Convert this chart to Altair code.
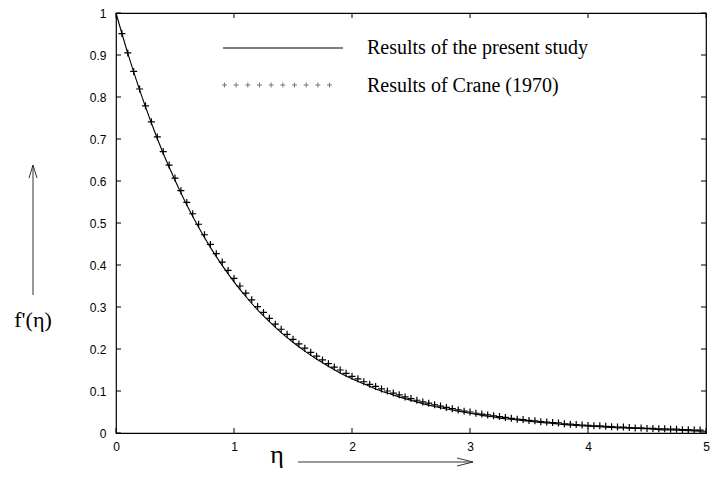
import altair as alt
import pandas as pd

# ---------------- data ----------------
eta_line = [0.0, 0.1, 0.2, 0.3, 0.4, 0.5, 0.6, 0.7, 0.8, 0.9,
            1.0, 1.1, 1.2, 1.3, 1.4, 1.5, 1.6, 1.7, 1.8, 1.9,
            2.0, 2.1, 2.2, 2.3, 2.4, 2.5, 2.6, 2.7, 2.8, 2.9,
            3.0, 3.1, 3.2, 3.3, 3.4, 3.5, 3.6, 3.7, 3.8, 3.9,
            4.0, 4.1, 4.2, 4.3, 4.4, 4.5, 4.6, 4.7, 4.8, 4.9, 5.0]
f_present = [1.000, 0.904, 0.817, 0.738, 0.666, 0.602, 0.543, 0.490, 0.442, 0.399,
             0.360, 0.325, 0.293, 0.265, 0.239, 0.216, 0.195, 0.176, 0.159, 0.143,
             0.129, 0.117, 0.105, 0.095, 0.086, 0.078, 0.070, 0.063, 0.057, 0.052,
             0.047, 0.042, 0.038, 0.034, 0.031, 0.028, 0.025, 0.023, 0.020, 0.018,
             0.016, 0.015, 0.013, 0.012, 0.011, 0.010, 0.008, 0.007, 0.006, 0.005, 0.004]

eta_crane = [i / 20 for i in range(1, 100)]
f_crane = [0.951, 0.905, 0.861, 0.819, 0.779, 0.741, 0.705, 0.670, 0.638, 0.607,
           0.577, 0.549, 0.522, 0.497, 0.472, 0.449, 0.427, 0.407, 0.387, 0.368,
           0.350, 0.333, 0.317, 0.301, 0.287, 0.273, 0.259, 0.247, 0.235, 0.223,
           0.212, 0.202, 0.192, 0.183, 0.174, 0.165, 0.157, 0.150, 0.142, 0.135,
           0.129, 0.122, 0.116, 0.111, 0.105, 0.100, 0.095, 0.091, 0.086, 0.082,
           0.078, 0.074, 0.071, 0.067, 0.064, 0.061, 0.058, 0.055, 0.052, 0.050,
           0.047, 0.045, 0.043, 0.041, 0.039, 0.037, 0.035, 0.033, 0.032, 0.030,
           0.029, 0.027, 0.026, 0.025, 0.024, 0.022, 0.021, 0.020, 0.019, 0.018,
           0.017, 0.017, 0.016, 0.015, 0.014, 0.014, 0.013, 0.012, 0.012, 0.011,
           0.011, 0.010, 0.010, 0.009, 0.009, 0.008, 0.008, 0.007, 0.007]

x_ticks = [0, 1, 2, 3, 4, 5]
y_ticks = [0, 0.1, 0.2, 0.3, 0.4, 0.5, 0.6, 0.7, 0.8, 0.9, 1]

legend_labels = ["Results of the present study", "Results of Crane (1970)"]
x_title = "η"
y_title = "f'(η)"

# ---------------- chart ----------------
W, H = 590, 420
SERIF = "Liberation Serif, DejaVu Serif, serif"
SANS = "Liberation Sans"

df_line = pd.DataFrame({"eta": eta_line, "f": f_present})
df_crane = pd.DataFrame({"eta": eta_crane, "f": f_crane})
df_xt = pd.DataFrame({"t": x_ticks})
df_yt = pd.DataFrame({"t": y_ticks})
dummy = pd.DataFrame({"a": [0]})

xs = alt.Scale(domain=[0, 5], nice=False, zero=False)
ys = alt.Scale(domain=[0, 1], nice=False, zero=False)

xaxis = alt.Axis(values=x_ticks, format="~g", title=None, grid=False, domain=False,
                 tickSize=0, labelFont=SANS, labelFontSize=12, labelColor="black",
                 labelPadding=8, labelFlush=False)
yaxis = alt.Axis(values=y_ticks, format="~g", title=None, grid=False, domain=False,
                 tickSize=0, labelFont=SANS, labelFontSize=12, labelColor="black",
                 labelPadding=10, labelFlush=False)

line = alt.Chart(df_line).mark_line(color="black", strokeWidth=1.1, interpolate="monotone").encode(
    x=alt.X("eta:Q", scale=xs, axis=xaxis),
    y=alt.Y("f:Q", scale=ys, axis=yaxis),
)

points = alt.Chart(df_crane).mark_point(
    shape="M-1,0L1,0M0,-1L0,1", size=49, color="black", strokeWidth=1.2,
    filled=False, opacity=1
).encode(
    x=alt.X("eta:Q", scale=xs),
    y=alt.Y("f:Q", scale=ys),
)

TL = 5
tick_style = dict(color="black", strokeWidth=1)
bt = alt.Chart(df_xt).mark_rule(**tick_style).encode(
    x=alt.X("t:Q", scale=xs), y=alt.value(H), y2=alt.value(H - TL))
tt = alt.Chart(df_xt).mark_rule(**tick_style).encode(
    x=alt.X("t:Q", scale=xs), y=alt.value(0), y2=alt.value(TL))
lt = alt.Chart(df_yt).mark_rule(**tick_style).encode(
    y=alt.Y("t:Q", scale=ys), x=alt.value(0), x2=alt.value(TL))
rt = alt.Chart(df_yt).mark_rule(**tick_style).encode(
    y=alt.Y("t:Q", scale=ys), x=alt.value(W), x2=alt.value(W - TL))

# legend sample of ten small pluses as one symbol
n_plus = 10
h = 0.045
step = (2 - 2 * h) / (n_plus - 1)
plus_path = "".join(
    f"M{-1 + h + i * step - h:.4f},0L{-1 + h + i * step + h:.4f},0"
    f"M{-1 + h + i * step:.4f},{-h}L{-1 + h + i * step:.4f},{h}"
    for i in range(n_plus)
)

leg_line = alt.Chart(dummy).mark_rule(color="black", strokeWidth=1.1).encode(
    x=alt.value(107), x2=alt.value(227), y=alt.value(35))
leg_txt1 = alt.Chart(dummy).mark_text(
    font=SERIF, fontSize=20, align="left", baseline="alphabetic", color="black"
).encode(x=alt.value(251), y=alt.value(41), text=alt.value(legend_labels[0]))
leg_plus = alt.Chart(dummy).mark_point(
    shape=plus_path, size=110 * 110, color="#777777", strokeWidth=1,
    filled=False, opacity=1
).encode(x=alt.value(161), y=alt.value(72))
leg_txt2 = alt.Chart(dummy).mark_text(
    font=SERIF, fontSize=20, align="left", baseline="alphabetic", color="black"
).encode(x=alt.value(251), y=alt.value(79), text=alt.value(legend_labels[1]))

# axis titles with arrows
xt_txt = alt.Chart(dummy).mark_text(
    font=SERIF, fontSize=26, align="center", baseline="alphabetic", color="black"
).encode(x=alt.value(161), y=alt.value(450), text=alt.value(x_title))
arrow_style = dict(color="#333333", strokeWidth=1)
x_arrow = alt.Chart(dummy).mark_rule(**arrow_style).encode(
    x=alt.value(182), x2=alt.value(357), y=alt.value(449))
x_head1 = alt.Chart(dummy).mark_rule(**arrow_style).encode(
    x=alt.value(357), y=alt.value(449), x2=alt.value(341), y2=alt.value(445))
x_head2 = alt.Chart(dummy).mark_rule(**arrow_style).encode(
    x=alt.value(357), y=alt.value(449), x2=alt.value(341), y2=alt.value(453))

yt_txt = alt.Chart(dummy).mark_text(
    font=SERIF, fontSize=22, align="center", baseline="alphabetic", color="black"
).encode(x=alt.value(-83), y=alt.value(314), text=alt.value(y_title))
y_arrow = alt.Chart(dummy).mark_rule(**arrow_style).encode(
    x=alt.value(-83), y=alt.value(152), y2=alt.value(282))
y_head1 = alt.Chart(dummy).mark_rule(**arrow_style).encode(
    x=alt.value(-83), y=alt.value(152), x2=alt.value(-87), y2=alt.value(165))
y_head2 = alt.Chart(dummy).mark_rule(**arrow_style).encode(
    x=alt.value(-83), y=alt.value(152), x2=alt.value(-79), y2=alt.value(165))

chart = alt.layer(
    line, points, bt, tt, lt, rt,
    leg_line, leg_txt1, leg_plus, leg_txt2,
    xt_txt, x_arrow, x_head1, x_head2,
    yt_txt, y_arrow, y_head1, y_head2,
).properties(
    width=W, height=H,
    autosize=alt.AutoSizeParams(type="none"),
    padding={"left": 108, "top": 5, "right": 4, "bottom": 37},
    background="white",
).configure_view(stroke="black", strokeWidth=1.2)

chart.save("out.html", embed_options={"renderer": "svg", "actions": False})
